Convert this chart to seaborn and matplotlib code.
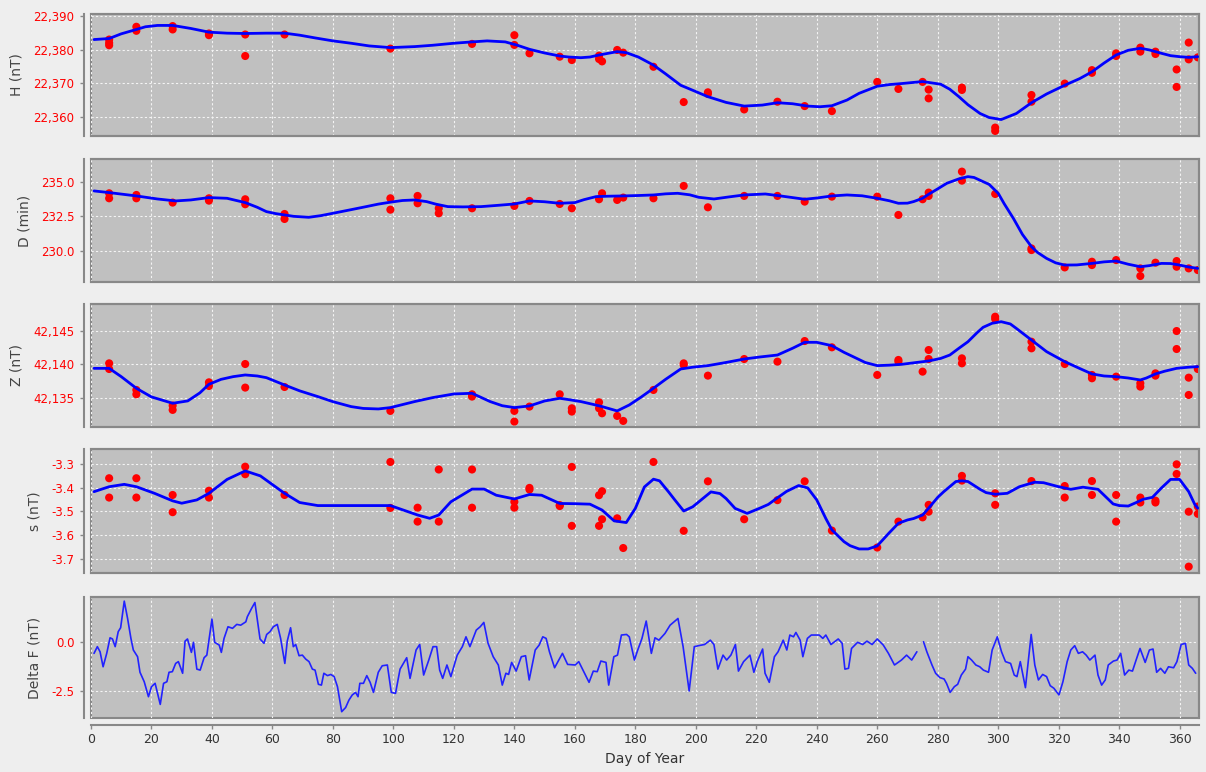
import matplotlib
matplotlib.use('Agg')
import matplotlib.pyplot as plt
import seaborn as sns
import pandas as pd
from matplotlib.ticker import FuncFormatter

# ---- H (nT): daily observations and fitted baseline ----
h_obs_day = [6, 6, 6, 15, 15, 27, 27, 39, 39, 51, 51, 64, 99, 126, 140, 140, 145, 155, 159,
             168, 168, 169, 174, 176, 186, 196, 204, 204, 216, 227, 236, 245, 260, 267, 275,
             277, 277, 288, 288, 299, 299, 311, 311, 322, 331, 331, 339, 339, 347, 347,
             352, 352, 359, 359, 363, 363, 366]
h_obs = [22383.0, 22382.0, 22381.3, 22386.8, 22385.6, 22387.0, 22386.0, 22384.8, 22384.3,
         22384.5, 22378.1, 22384.5, 22380.3, 22381.7, 22384.3, 22381.4, 22378.9, 22377.9,
         22376.9, 22378.2, 22377.2, 22376.5, 22379.9, 22379.1, 22374.9, 22364.4, 22367.3,
         22366.8, 22362.2, 22364.5, 22363.2, 22361.7, 22370.4, 22368.3, 22370.4, 22368.1,
         22365.5, 22368.7, 22368.0, 22356.8, 22355.8, 22366.5, 22364.5, 22369.9, 22373.9,
         22373.1, 22378.9, 22378.1, 22380.6, 22379.4, 22379.4, 22378.7, 22374.1, 22368.9,
         22382.1, 22377.1, 22377.7]
h_fit_day = [1, 6, 10, 15, 18, 22, 27, 33, 39, 45, 51, 58, 64, 69, 74, 80, 86, 92, 99, 107,
             113, 120, 126, 131, 137, 141, 145, 150, 155, 158, 162, 165, 168, 174, 177, 181,
             186, 190, 195, 199, 204, 210, 216, 222, 227, 232, 237, 241, 245, 250, 254, 260,
             264, 268, 275, 281, 284, 287, 290, 294, 297, 301, 306, 311, 316, 322, 327, 331,
             335, 339, 343, 347, 350, 354, 357, 360, 363, 366]
h_fit = [22383.0, 22383.3, 22384.7, 22386.0, 22386.8, 22387.2, 22387.2, 22386.3, 22385.2,
         22384.9, 22384.8, 22384.9, 22384.9, 22384.3, 22383.5, 22382.6, 22381.9, 22381.1,
         22380.6, 22380.9, 22381.3, 22381.9, 22382.3, 22382.6, 22382.3, 22381.3, 22380.1,
         22379.0, 22378.1, 22377.8, 22377.6, 22377.8, 22378.4, 22379.4, 22379.1, 22377.8,
         22375.4, 22372.8, 22369.4, 22367.9, 22366.0, 22364.3, 22363.2, 22363.5, 22364.2,
         22363.9, 22363.2, 22363.0, 22363.3, 22365.0, 22367.0, 22369.1, 22369.6, 22369.9,
         22370.5, 22369.7, 22368.2, 22366.0, 22363.6, 22361.0, 22359.8, 22359.2, 22361.0,
         22364.2, 22366.8, 22369.4, 22371.4, 22373.4, 22376.0, 22378.4, 22379.8, 22380.4,
         22379.9, 22378.9, 22378.2, 22377.9, 22377.7, 22377.9]

# ---- D (min) ----
d_obs_day = [6, 6, 15, 15, 27, 39, 39, 51, 51, 64, 64, 99, 99, 108, 108, 115, 115, 126, 140,
             145, 155, 159, 168, 169, 174, 176, 186, 196, 204, 216, 227, 236, 245, 260, 267,
             275, 277, 277, 288, 288, 299, 311, 311, 322, 331, 331, 339, 347, 347, 352,
             359, 359, 363, 366]
d_obs = [234.16, 233.80, 234.04, 233.80, 233.49, 233.80, 233.63, 233.73, 233.37, 232.67,
         232.31, 233.80, 232.98, 233.97, 233.44, 233.08, 232.72, 233.08, 233.25, 233.61,
         233.39, 233.08, 233.73, 234.16, 233.68, 233.85, 233.80, 234.69, 233.15, 233.97,
         233.97, 233.56, 233.92, 233.92, 232.60, 233.73, 234.21, 233.97, 235.72, 235.07,
         234.11, 230.19, 230.07, 228.82, 229.23, 228.99, 229.35, 228.75, 228.20, 229.16,
         229.28, 228.87, 228.75, 228.63]
d_fit_day = [1, 6, 15, 22, 28, 33, 39, 45, 51, 55, 58, 61, 64, 67, 72, 76, 80, 86, 91, 95,
             99, 103, 107, 111, 114, 118, 123, 129, 135, 140, 145, 150, 155, 160, 163, 167,
             171, 176, 181, 186, 190, 194, 198, 201, 206, 211, 216, 223, 228, 232, 236, 240,
             245, 250, 255, 260, 264, 267, 270, 272, 275, 277, 280, 283, 287, 290, 292, 295,
             297, 300, 302, 305, 308, 311, 313, 316, 319, 322, 326, 331, 335, 339, 343, 347,
             350, 354, 357, 360, 363, 366]
d_fit = [234.33, 234.21, 233.97, 233.75, 233.61, 233.68, 233.85, 233.80, 233.49, 233.15,
         232.84, 232.70, 232.60, 232.50, 232.43, 232.55, 232.72, 232.98, 233.20, 233.38,
         233.52, 233.64, 233.68, 233.56, 233.38, 233.20, 233.18, 233.20, 233.30, 233.39,
         233.61, 233.55, 233.44, 233.49, 233.70, 233.92, 233.95, 233.97, 234.00, 234.04,
         234.12, 234.16, 234.05, 233.87, 233.75, 233.90, 234.04, 234.11, 233.97, 233.85,
         233.73, 233.82, 233.97, 234.04, 233.98, 233.80, 233.62, 233.44, 233.45, 233.56,
         233.80, 234.09, 234.48, 234.88, 235.20, 235.36, 235.30, 235.00, 234.80, 234.16,
         233.40, 232.36, 231.20, 230.31, 229.90, 229.47, 229.15, 228.99, 229.00, 229.11,
         229.22, 229.28, 229.05, 228.87, 228.95, 229.11, 229.10, 228.99, 228.85, 228.75]

# ---- Z (nT) ----
z_obs_day = [6, 6, 15, 15, 27, 27, 39, 39, 51, 51, 64, 99, 126, 126, 140, 140, 145, 155,
             159, 159, 168, 168, 169, 174, 176, 186, 196, 196, 204, 216, 227, 236, 245, 260,
             267, 267, 275, 277, 277, 288, 288, 299, 299, 311, 311, 322, 331, 331, 339,
             347, 347, 352, 352, 359, 359, 363, 363, 366]
z_obs = [42140.17, 42139.33, 42136.23, 42135.59, 42133.92, 42133.28, 42137.36, 42136.82,
         42140.07, 42136.58, 42136.67, 42133.13, 42135.59, 42135.25, 42133.13, 42131.55,
         42133.77, 42135.59, 42133.52, 42133.03, 42134.41, 42133.52, 42132.78, 42132.39,
         42131.65, 42136.23, 42140.17, 42139.93, 42138.35, 42140.81, 42140.42, 42143.47,
         42142.54, 42138.45, 42140.67, 42140.42, 42138.94, 42142.14, 42140.81, 42140.91,
         42140.17, 42147.07, 42146.72, 42143.37, 42142.39, 42140.07, 42138.45, 42137.96,
         42138.20, 42137.22, 42136.72, 42138.69, 42138.35, 42144.95, 42142.29, 42138.05,
         42135.49, 42139.33]
z_fit_day = [1, 6, 10, 15, 20, 27, 32, 36, 39, 43, 47, 51, 55, 58, 64, 69, 75, 80, 86, 90,
             95, 99, 107, 113, 120, 126, 132, 136, 140, 145, 150, 155, 158, 162, 166, 169,
             174, 178, 182, 186, 190, 195, 199, 204, 210, 216, 221, 227, 232, 236, 240, 245,
             249, 252, 256, 260, 264, 268, 273, 277, 281, 284, 287, 290, 293, 295, 298, 301,
             304, 306, 311, 316, 322, 327, 331, 335, 339, 343, 347, 349, 352, 355, 359, 363,
             366]
z_fit = [42139.43, 42139.43, 42138.2, 42136.48, 42135.2, 42134.26, 42134.61, 42135.8,
         42137.07, 42137.8, 42138.20, 42138.45, 42138.3, 42138.05, 42136.97, 42136.1,
         42135.25, 42134.5, 42133.77, 42133.5, 42133.42, 42133.62, 42134.51, 42135.1,
         42135.64, 42135.74, 42134.51, 42133.9, 42133.62, 42133.87, 42134.6, 42135.00,
         42134.8, 42134.51, 42134.1, 42133.77, 42133.13, 42134.01, 42135.2, 42136.48,
         42137.8, 42139.33, 42139.6, 42139.83, 42140.3, 42140.81, 42141.1, 42141.40,
         42142.4, 42143.28, 42143.28, 42142.78, 42141.8, 42141.16, 42140.3, 42139.83,
         42139.9, 42140.02, 42140.3, 42140.52, 42140.9, 42141.40, 42142.4, 42143.37,
         42144.7, 42145.5, 42146.1, 42146.33, 42146.0, 42145.34, 42143.62, 42141.9,
         42140.42, 42139.4, 42138.60, 42138.3, 42138.20, 42138.0, 42137.71, 42138.0,
         42138.60, 42139.0, 42139.43, 42139.6, 42139.68]

# ---- s (nT) ----
s_obs_day = [6, 6, 15, 15, 27, 27, 39, 39, 51, 51, 64, 99, 99, 108, 108, 115, 115, 126, 126,
             140, 140, 145, 145, 155, 155, 159, 159, 168, 168, 169, 169, 174, 176, 186, 196,
             204, 216, 227, 236, 245, 260, 267, 275, 277, 277, 288, 288, 299, 299, 311,
             322, 322, 331, 331, 339, 339, 347, 347, 352, 352, 359, 359, 363, 363, 366, 366]
s_obs = [-3.359, -3.441, -3.359, -3.441, -3.430, -3.503, -3.412, -3.441, -3.310, -3.342,
         -3.430, -3.290, -3.485, -3.484, -3.543, -3.322, -3.543, -3.322, -3.484, -3.459,
         -3.484, -3.400, -3.407, -3.473, -3.477, -3.311, -3.561, -3.431, -3.561, -3.414,
         -3.533, -3.529, -3.655, -3.290, -3.582, -3.372, -3.533, -3.452, -3.372, -3.581,
         -3.653, -3.543, -3.525, -3.472, -3.501, -3.349, -3.369, -3.423, -3.472, -3.371,
         -3.392, -3.441, -3.371, -3.430, -3.430, -3.543, -3.441, -3.462, -3.454, -3.462,
         -3.300, -3.341, -3.501, -3.734, -3.479, -3.510]
s_fit_day = [1, 6, 11, 15, 21, 27, 30, 35, 39, 45, 51, 56, 64, 69, 75, 99, 108, 112, 115,
             119, 126, 130, 134, 140, 145, 149, 155, 160, 165, 169, 173, 177, 180, 183, 186,
             188, 191, 193, 196, 199, 201, 205, 208, 210, 213, 217, 221, 224, 227, 230, 234,
             237, 240, 243, 245, 249, 251, 254, 257, 260, 264, 267, 270, 272, 275, 277, 280,
             282, 286, 288, 290, 294, 296, 299, 303, 307, 312, 315, 320, 324, 328, 333, 338,
             340, 343, 346, 348, 351, 354, 357, 360, 363, 365, 366]
s_fit = [-3.416, -3.395, -3.385, -3.395, -3.423, -3.455, -3.465, -3.451, -3.423, -3.364,
         -3.328, -3.349, -3.423, -3.462, -3.475, -3.475, -3.515, -3.529, -3.515, -3.459,
         -3.405, -3.405, -3.431, -3.447, -3.428, -3.431, -3.466, -3.467, -3.469, -3.494,
         -3.540, -3.547, -3.487, -3.396, -3.363, -3.370, -3.417, -3.450, -3.498, -3.480,
         -3.459, -3.417, -3.424, -3.445, -3.487, -3.508, -3.487, -3.470, -3.442, -3.415,
         -3.390, -3.400, -3.451, -3.530, -3.578, -3.628, -3.645, -3.659, -3.659, -3.646,
         -3.590, -3.550, -3.536, -3.530, -3.515, -3.486, -3.440, -3.416, -3.373, -3.370,
         -3.373, -3.406, -3.420, -3.427, -3.423, -3.395, -3.376, -3.378, -3.395, -3.406,
         -3.397, -3.406, -3.468, -3.475, -3.477, -3.460, -3.448, -3.440, -3.400, -3.364,
         -3.364, -3.416, -3.470, -3.486]

# ---- Delta F (nT), daily; day 274 missing ----
df1_day = [1.0, 2.1, 3.0, 4.0, 5.2, 6.3, 7.1, 8.0, 9.0, 9.8, 11.0, 12.1, 13.2, 14.0, 15.4,
           16.2, 17.6, 19.0, 20.0, 21.2, 22.9, 24.0, 25.1, 25.8, 26.9, 28.0, 28.9, 30.3,
           31.1, 31.9, 33.2, 33.9, 35.0, 36.1, 37.4, 38.3, 40.0, 40.9, 42.4, 43.1, 44.0,
           45.3, 46.8, 48.2, 49.5, 51.2, 51.7, 53.1, 54.2, 55.0, 55.9, 57.2, 58.1, 59.2,
           60.3, 61.6, 62.7, 64.1, 64.9, 66.0, 66.9, 67.7, 68.8, 69.9, 71.0, 72.1, 73.2,
           74.1, 75.2, 76.2, 77.0, 78.2, 79.3, 80.4, 81.5, 82.9, 84.2, 85.3, 86.4, 87.5,
           88.3, 88.9, 90.1, 91.2, 92.3, 93.4, 95.0, 96.3, 98.0, 99.3, 100.7, 102.2, 104.4,
           105.5, 107.5, 108.7, 110.0, 111.7, 113.1, 114.3, 115.3, 116.3, 117.7, 119.0,
           121.1, 122.8, 124.0, 125.3, 127.4, 128.7, 129.9, 131.3, 133.0, 134.7, 136.0,
           137.2, 138.1, 139.1, 140.6, 142.3, 143.7, 144.9, 146.9, 148.2, 149.4, 150.5,
           151.6, 153.3, 155.9, 157.6, 160.1, 161.3, 162.7, 164.7, 166.1, 167.4, 168.6,
           170.3, 171.2, 172.9, 174.1, 175.4, 177.1, 178.0, 179.7, 180.8, 182.2, 183.6,
           185.3, 186.5, 187.8, 189.8, 191.5, 194.1, 195.8, 197.8, 199.5, 200.9, 202.9,
           204.8, 206.0, 207.3, 209.0, 210.2, 211.6, 213.1, 214.1, 215.8, 217.9, 219.2,
           220.4, 222.1, 222.9, 224.3, 226.0, 227.2, 228.9, 230.1, 231.1, 232.3, 233.1,
           234.5, 235.4, 236.9, 238.2, 240.8, 242.0, 243.0, 244.7, 247.1, 248.4, 249.3,
           250.5, 251.5, 253.5, 255.2, 256.6, 258.3, 260.0, 262.0, 263.7, 265.7, 268.0,
           269.7, 271.4, 273.1]
df1 = [-0.59, -0.25, -0.51, -1.27, -0.59, 0.20, 0.14, -0.25, 0.51, 0.71, 2.06, 1.18, 0.17,
       -0.42, -0.76, -1.55, -2.03, -2.79, -2.28, -2.11, -3.18, -2.11, -2.03, -1.55, -1.52,
       -1.10, -1.01, -1.60, 0.03, 0.14, -0.54, -0.03, -1.39, -1.44, -0.81, -0.68, 1.15,
       -0.03, -0.17, -0.54, 0.17, 0.76, 0.68, 0.88, 0.84, 1.01, 1.27, 1.69, 1.99, 1.10, 0.14,
       -0.08, 0.37, 0.51, 0.76, 0.88, 0.17, -1.10, 0.03, 0.71, -0.25, -0.14, -0.71, -0.68,
       -0.88, -1.01, -1.39, -1.44, -2.16, -2.20, -1.60, -1.72, -1.66, -1.77, -2.28, -3.55,
       -3.34, -2.96, -2.70, -2.57, -2.79, -2.11, -2.11, -1.72, -2.06, -2.57, -1.55, -1.22,
       -1.18, -2.57, -2.62, -1.39, -0.81, -1.86, -0.42, -0.14, -1.69, -0.93, -0.25, -0.25,
       -1.44, -1.86, -1.18, -1.77, -0.68, -0.25, 0.25, -0.25, 0.59, 0.76, 0.98, -0.08,
       -0.76, -1.18, -2.20, -1.60, -1.66, -1.05, -1.49, -0.76, -0.71, -1.94, -0.42, -0.17,
       0.25, 0.17, -0.51, -1.32, -0.59, -1.15, -1.18, -1.01, -1.44, -2.06, -1.49, -1.52,
       -0.98, -1.05, -2.20, -0.76, -0.68, 0.34, 0.37, 0.25, -0.93, -0.42, 0.17, 1.05,
       -0.59, 0.20, 0.08, 0.42, 0.84, 1.18, -0.25, -2.50, -0.25, -0.20, -0.14, 0.08, -0.14,
       -1.39, -0.68, -0.93, -0.68, -0.14, -1.49, -1.01, -0.68, -1.55, -0.98, -0.37, -1.60,
       -2.06, -0.76, -0.51, 0.08, -0.42, 0.34, 0.25, 0.47, 0.08, -0.76, 0.17, 0.34, 0.34,
       0.17, 0.34, -0.14, 0.14, -0.08, -1.39, -1.35, -0.34, -0.03, -0.14, 0.03, -0.14,
       0.14, -0.17, -0.59, -1.18, -0.93, -0.68, -0.93, -0.51]
df2_day = [275.3, 276.4, 278.1, 279.3, 280.7, 282.1, 282.9, 284.1, 285.5, 286.6, 287.8,
           289.2, 290.0, 291.2, 292.6, 293.9, 295.1, 296.8, 298.0, 299.7, 301.1, 302.4,
           304.1, 305.3, 306.2, 307.3, 309.0, 310.9, 312.1, 313.3, 314.7, 316.0, 317.2,
           318.4, 320.1, 321.4, 322.8, 324.0, 325.3, 326.5, 327.9, 329.1, 330.3, 332.0,
           333.0, 334.2, 335.4, 336.4, 338.1, 339.3, 340.5, 341.8, 343.2, 344.4, 345.6,
           346.9, 348.6, 350.0, 351.2, 352.4, 353.7, 355.1, 356.3, 358.0, 359.1, 360.5,
           361.9, 363.0, 364.2, 365.3]
df2 = [0.0, -0.51, -1.18, -1.60, -1.82, -1.89, -2.11, -2.57, -2.28, -2.16, -1.69, -1.39,
       -0.76, -0.93, -1.18, -1.27, -1.44, -1.55, -0.42, 0.25, -0.51, -1.01, -1.10, -1.69,
       -1.77, -1.01, -2.33, 0.37, -1.18, -1.94, -1.66, -1.77, -2.23, -2.36, -2.70, -2.03,
       -1.01, -0.42, -0.20, -0.59, -0.51, -0.68, -0.93, -0.68, -1.69, -2.20, -1.94, -1.18,
       -0.98, -0.93, -0.59, -1.69, -1.44, -1.49, -0.93, -0.34, -1.05, -0.42, -0.37, -1.55,
       -1.35, -1.60, -1.27, -1.32, -1.01, -0.14, -0.08, -1.18, -1.35, -1.60]

pairs = [(h_obs_day, h_obs), (h_fit_day, h_fit), (d_obs_day, d_obs), (d_fit_day, d_fit),
         (z_obs_day, z_obs), (z_fit_day, z_fit), (s_obs_day, s_obs), (s_fit_day, s_fit),
         (df1_day, df1), (df2_day, df2)]
for a, b in pairs:
    assert len(a) == len(b), (len(a), len(b))

sns.set_theme(style='white')
plt.rcParams['font.family'] = ['DejaVu Sans']
plt.rcParams['axes.unicode_minus'] = False

fig = plt.figure(figsize=(12.06, 7.72), dpi=100, facecolor='#eeeeee')
W, H = 1206.0, 772.0
left, right = 91, 1199
boxes = [(14, 136), (159, 282), (304, 427), (449, 573), (597, 718)]
axes = [fig.add_axes([left / W, 1 - b / H, (right - left) / W, (b - t) / H]) for t, b in boxes]

comma = lambda v, p: f'{v:,.0f}'
one = lambda v, p: f'{v:.1f}'
specs = [
    ('H (nT)', (22354.3, 22390.6), [22360, 22370, 22380, 22390], comma),
    ('D (min)', (227.77, 236.63), [230.0, 232.5, 235.0], one),
    ('Z (nT)', (42130.75, 42148.95), [42135, 42140, 42145], comma),
    ('s (nT)', (-3.761, -3.235), [-3.7, -3.6, -3.5, -3.4, -3.3], one),
    ('Delta F (nT)', (-3.87, 2.27), [-2.5, 0.0], one),
]

panels = [(h_obs_day, h_obs, h_fit_day, h_fit), (d_obs_day, d_obs, d_fit_day, d_fit),
          (z_obs_day, z_obs, z_fit_day, z_fit), (s_obs_day, s_obs, s_fit_day, s_fit)]

for ax, (od, ov, fd, fv) in zip(axes[:4], panels):
    sns.scatterplot(x=od, y=ov, ax=ax, color='#ff0000', s=34, edgecolor='none', zorder=2)
    sns.lineplot(x=fd, y=fv, ax=ax, color='#0000ff', lw=2.0, estimator=None, zorder=3)

dfF = pd.DataFrame({'day': df1_day + df2_day, 'dF': df1 + df2,
                    'seg': [1] * len(df1_day) + [2] * len(df2_day)})
sns.lineplot(data=dfF, x='day', y='dF', units='seg', estimator=None, ax=axes[4],
             color='#2222ff', lw=1.2)

for i, (ax, (lab, ylim, yt, fmt)) in enumerate(zip(axes, specs)):
    ax.set_facecolor('#c0c0c0')
    ax.set_xlim(0.3, 366.4)
    ax.set_ylim(*ylim)
    ax.set_xticks(range(0, 361, 20))
    ax.set_yticks(yt)
    ax.yaxis.set_major_formatter(FuncFormatter(fmt))
    ax.grid(True, color='#f4f4f4', linestyle=(0, (2, 2)), linewidth=0.8)
    ax.set_axisbelow(True)
    ax.patch.set_edgecolor('#888888')
    ax.patch.set_linewidth(1.5)
    for sp in ax.spines.values():
        sp.set_visible(True)
        sp.set_color('#888888')
        sp.set_linewidth(1.5)
    ax.spines['left'].set_position(('outward', 5))
    ax.tick_params(axis='y', which='both', left=True, length=3, width=1, color='#888888',
                   labelcolor='#ff0000', labelsize=8.5, pad=4)
    ax.set_ylabel(lab, fontsize=10, color='#444444', labelpad=7)
    if i < 4:
        ax.tick_params(axis='x', length=0, labelbottom=False)
        ax.set_xlabel('')
    else:
        ax.spines['bottom'].set_position(('outward', 5))
        ax.tick_params(axis='x', bottom=True, length=3, width=1, color='#888888',
                       labelcolor='#333333', labelsize=9, pad=3)
        ax.set_xlabel('Day of Year', fontsize=10, color='#333333', labelpad=4)

fig.savefig('out.png', dpi=100, facecolor=fig.get_facecolor())
